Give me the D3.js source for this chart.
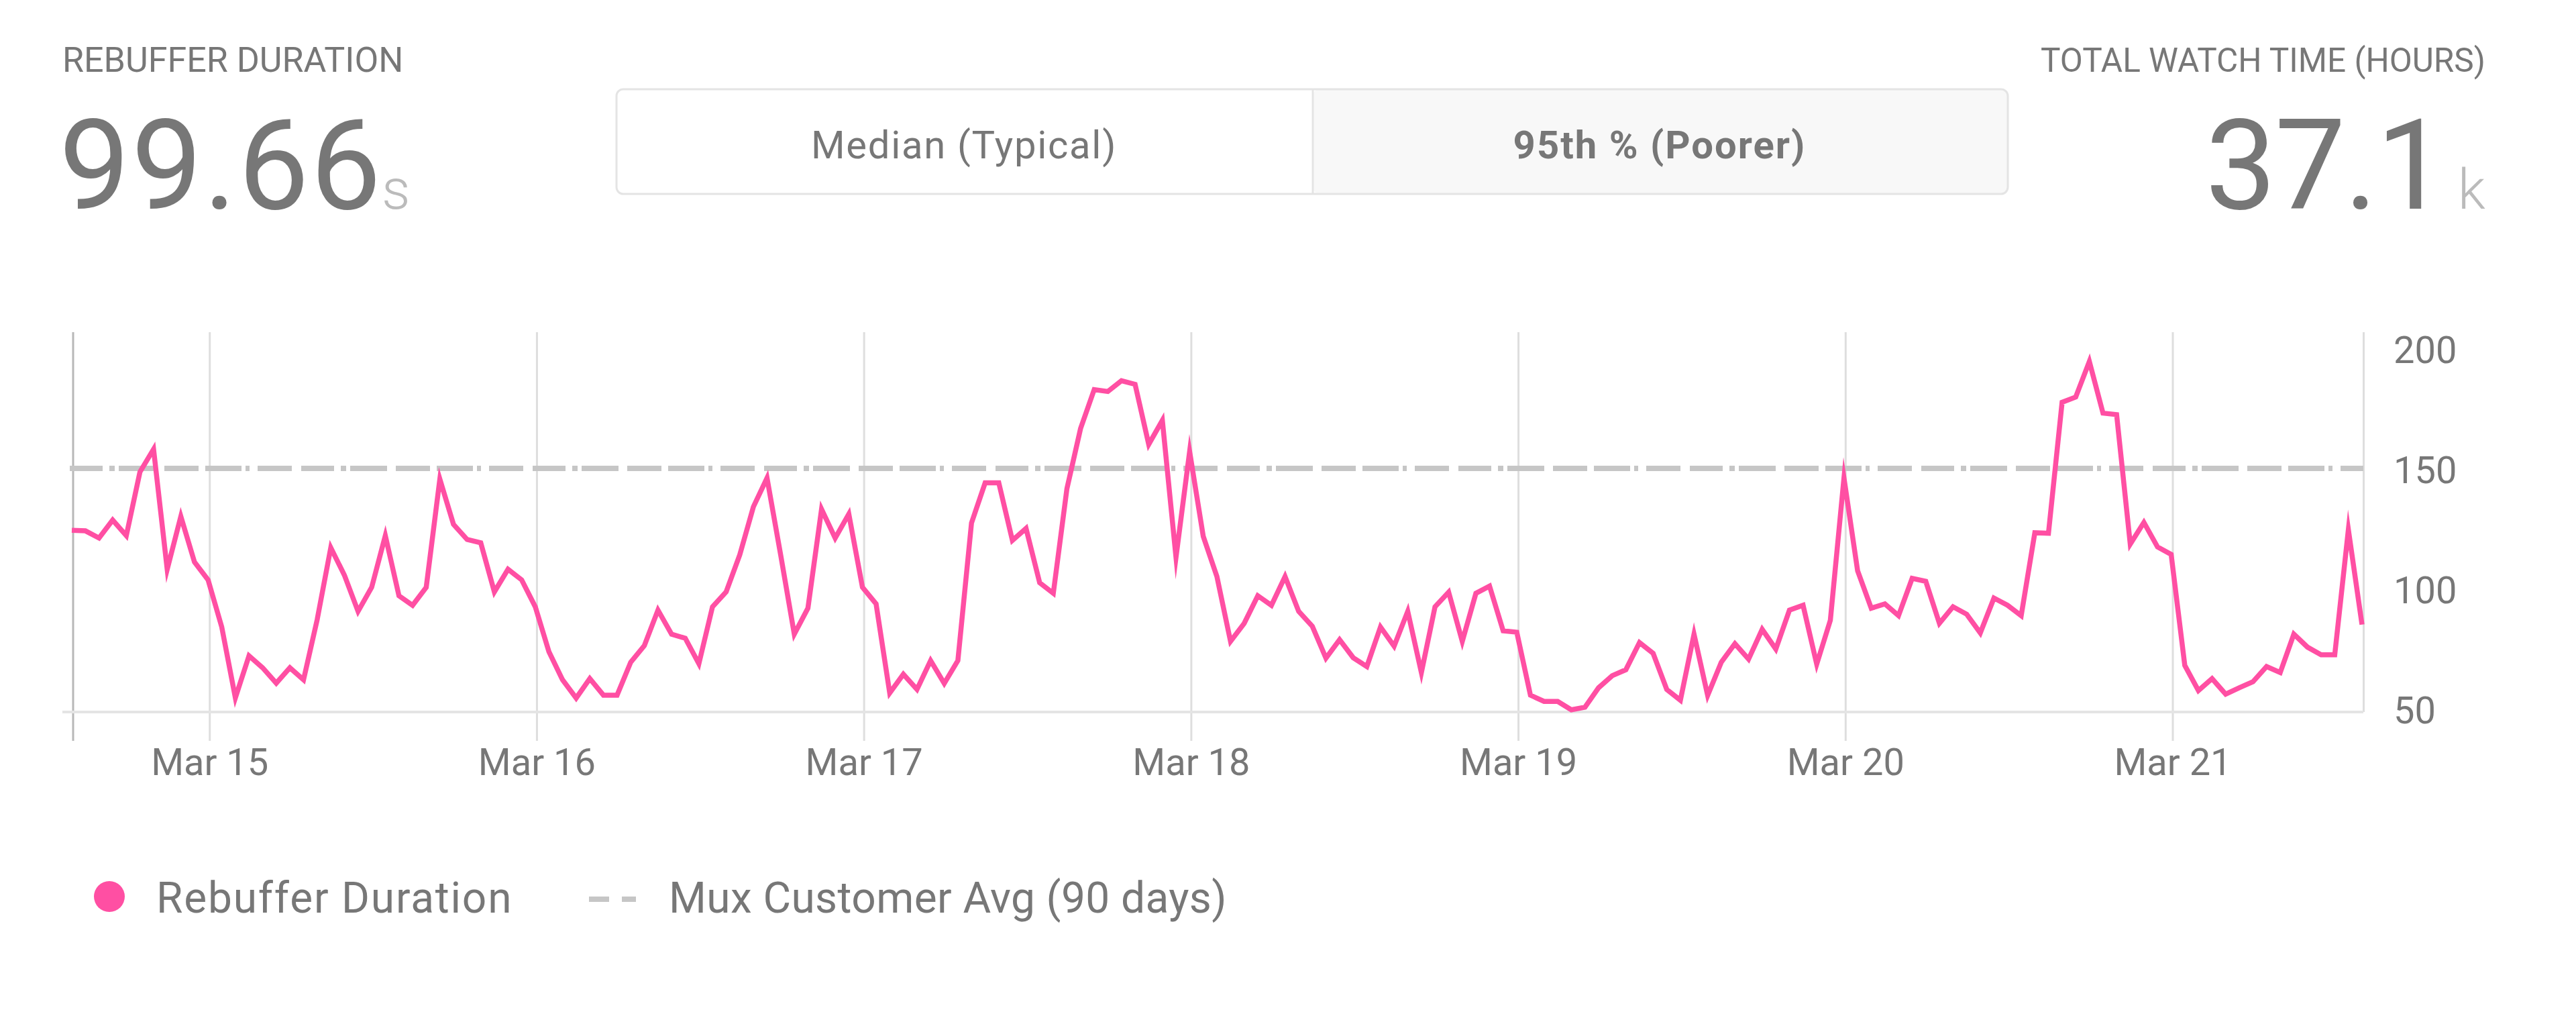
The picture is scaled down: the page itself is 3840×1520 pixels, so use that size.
<!DOCTYPE html>
<html>
<head>
<meta charset="utf-8">
<script src="https://cdn.jsdelivr.net/npm/d3@7"></script>
<style>
  html, body { margin: 0; padding: 0; background: #fff; }
  svg { display: block; }
  text { font-family: Roboto, sans-serif; fill: #777; }
  .axis .domain { display: none; }
  .axis text { font-size: 56px; fill: #777; font-family: Roboto, sans-serif; }
  .xaxis line { stroke: #dedede; stroke-width: 3; }
</style>
</head>
<body>
<div id="chart"></div>
<script>
// values, one per hour from Mar 14 14:00
const rebuffer = [
  124.2, 124, 121, 128.5, 122, 148.5, 158, 108, 130, 111, 103.6, 84, 54.5, 72, 67, 60.6, 67, 62, 87, 117,
  105.5, 90.5, 100.5, 122, 97, 93, 100.5, 145.5, 126.7, 120.4, 119, 98.6, 108, 103.6, 92.4, 73.7, 62, 54.4, 62.5, 55.6,
  55.6, 69.3, 76.2, 91, 81, 79.3, 68.7, 92.4, 98.6, 114, 134, 146, 114, 81, 91.8, 133, 121, 131, 100.5, 93.6,
  56.5, 64.3, 58, 70, 60.5, 70, 127.3, 144, 144, 120, 125, 102.4, 98, 141.6, 166.6, 182.8, 182, 186.5, 185, 160,
  170, 113, 157, 121.7, 105, 78, 85.5, 97, 93, 105, 90.5, 84.3, 71, 78.7, 71.2, 67.5, 84, 76, 90.5, 65,
  92.4, 98.5, 78, 98, 101, 82.4, 81.8, 55.6, 53, 53, 49.5, 50.6, 58.7, 63.7, 66.2, 77.5, 73, 58, 53.5, 81,
  55.5, 69.3, 77, 70.6, 83, 74.8, 91, 93, 68.5, 86.8, 146, 107.4, 91.8, 93.6, 88.7, 104.2, 103, 85.5, 92.4, 89.3,
  81.5, 96, 93, 88.7, 123.2, 123, 177.5, 179.7, 194.5, 173, 172.4, 118.5, 127.5, 117.3, 114.2, 68, 57.5, 62.5, 56, 58.7,
  61.2, 67.5, 65, 81, 75.6, 72.4, 72.4, 124.5, 85
];
const customerAvg = 150;
const yTicks = [50, 100, 150, 200];
const xTickDays = ['2018-03-15', '2018-03-16', '2018-03-17', '2018-03-18', '2018-03-19', '2018-03-20', '2018-03-21'];
const xTickLabels = ['Mar 15', 'Mar 16', 'Mar 17', 'Mar 18', 'Mar 19', 'Mar 20', 'Mar 21'];
const toggleLabels = ['Median (Typical)', '95th % (Poorer)'];
const legendLabels = ['Rebuffer Duration', 'Mux Customer Avg (90 days)'];

const pink = '#ff4fa3';
const dashGrey = '#c6c6c6';
const start = new Date(Date.UTC(2018, 2, 14, 14));
const points = rebuffer.map((v, i) => ({t: d3.utcHour.offset(start, i), v: v}));

const svg = d3.select('#chart').append('svg').attr('width', 3840).attr('height', 1520);

const x = d3.scaleUtc()
  .domain(d3.extent(points, d => d.t))
  .range([109, 3523]);
const y = d3.scaleLinear()
  .domain([48.6, 206.7])
  .range([1061, 495]);

// header figures
function bigFigure(anchor, label, labelX, labelSize, number, numberX, spacing, unit, unitX) {
  svg.append('text').attr('x', labelX).attr('y', 107).attr('text-anchor', anchor)
    .style('font-size', labelSize + 'px').text(label);
  svg.append('text').attr('x', numberX).attr('y', 311).attr('text-anchor', anchor)
    .style('font-size', '188px').style('letter-spacing', spacing + 'px').text(number);
  svg.append('text').attr('x', unitX).attr('y', 311).attr('text-anchor', anchor)
    .style('font-size', '84px').style('font-weight', 300).style('fill', '#bbb').text(unit);
}
bigFigure('start', 'REBUFFER DURATION', 93, 52, '99.66', 88, 2, 's', 569);
bigFigure('end', 'TOTAL WATCH TIME (HOURS)', 3705, 49.5, '37.1', 3646, -2, 'k', 3705);

// toggle
const toggle = svg.append('g');
toggle.append('rect').attr('x', 1957).attr('y', 133).attr('width', 1036).attr('height', 156)
  .attr('rx', 10).attr('fill', '#f8f8f8');
toggle.append('rect').attr('x', 919).attr('y', 133).attr('width', 2074).attr('height', 156)
  .attr('rx', 10).attr('fill', 'none').attr('stroke', '#e4e4e4').attr('stroke-width', 3);
toggle.append('line').attr('x1', 1957).attr('x2', 1957).attr('y1', 133).attr('y2', 289)
  .attr('stroke', '#e4e4e4').attr('stroke-width', 3);
toggle.append('text').attr('x', 1437).attr('y', 236).attr('text-anchor', 'middle')
  .style('font-size', '58px').style('letter-spacing', '1.7px').text(toggleLabels[0]);
toggle.append('text').attr('x', 2474).attr('y', 236).attr('text-anchor', 'middle')
  .style('font-size', '58px').style('letter-spacing', '2px').style('font-weight', 700).text(toggleLabels[1]);

// x axis with its grid lines
svg.append('g')
  .attr('class', 'axis xaxis')
  .attr('transform', 'translate(0,495)')
  .call(d3.axisBottom(x)
    .tickValues(xTickDays.map(d => new Date(d + 'T00:00:00Z')))
    .tickFormat((d, i) => xTickLabels[i])
    .tickSize(609)
    .tickPadding(11));

// left edge, right edge, floor
svg.append('line').attr('x1', 109).attr('x2', 109).attr('y1', 495).attr('y2', 1104)
  .attr('stroke', '#b8b8b8').attr('stroke-width', 3);
svg.append('line').attr('x1', 3523.5).attr('x2', 3523.5).attr('y1', 495).attr('y2', 1061)
  .attr('stroke', '#dedede').attr('stroke-width', 3);
svg.append('line').attr('x1', 93).attr('x2', 3523).attr('y1', 1061).attr('y2', 1061)
  .attr('stroke', '#e4e4e4').attr('stroke-width', 4);

// y axis
svg.append('g')
  .attr('class', 'axis yaxis')
  .attr('transform', 'translate(3523,0)')
  .call(d3.axisRight(y)
    .tickValues(yTicks)
    .tickSize(0)
    .tickPadding(45))
  .selectAll('text').attr('dy', '0.39em');

// customer average
svg.append('line')
  .attr('x1', 104).attr('x2', 3523)
  .attr('y1', y(customerAvg)).attr('y2', y(customerAvg))
  .attr('stroke', dashGrey).attr('stroke-width', 8)
  .attr('stroke-dasharray', '49 10 8 6 55 13 51 10 54 6 6 12 51 14');

// rebuffer line
const line = d3.line().x(d => x(d.t)).y(d => y(d.v));
svg.append('path')
  .datum(points)
  .attr('d', line)
  .attr('transform', 'translate(-2,0)')
  .attr('fill', 'none')
  .attr('stroke', pink)
  .attr('stroke-width', 7.5)
  .attr('stroke-linejoin', 'miter')
  .attr('stroke-miterlimit', 10);

// legend
svg.append('circle').attr('cx', 163).attr('cy', 1336).attr('r', 23).attr('fill', pink);
svg.append('text').attr('x', 233).attr('y', 1360).style('font-size', '64px').style('letter-spacing', '1.8px').text(legendLabels[0]);
svg.append('line').attr('x1', 878).attr('x2', 948).attr('y1', 1340).attr('y2', 1340)
  .attr('stroke', dashGrey).attr('stroke-width', 8).attr('stroke-dasharray', '30 19 21 0');
svg.append('text').attr('x', 997).attr('y', 1360).style('font-size', '64px').style('letter-spacing', '0.4px').text(legendLabels[1]);
</script>
</body>
</html>
